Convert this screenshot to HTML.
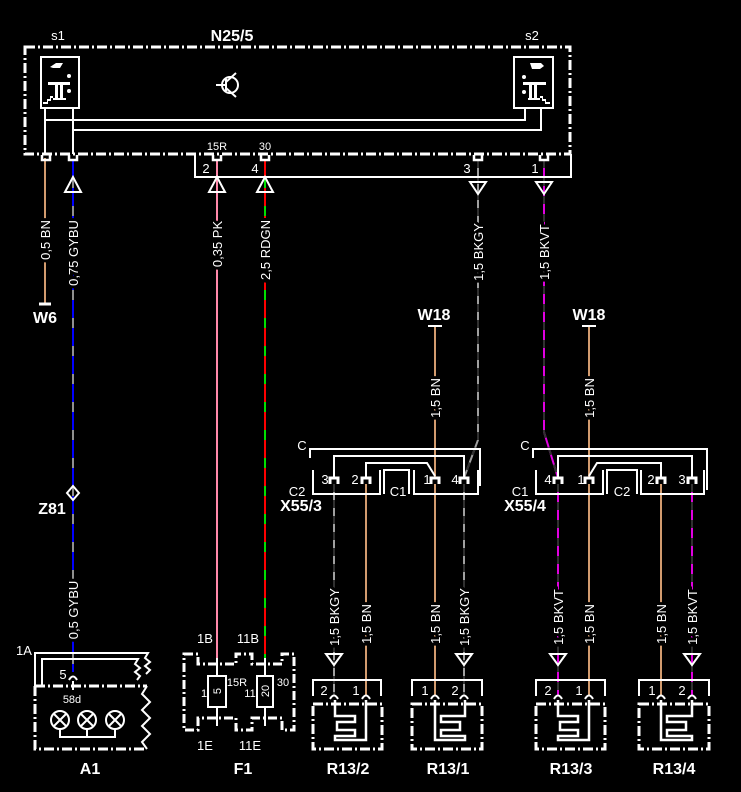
<!DOCTYPE html>
<html><head><meta charset="utf-8"><style>
html,body{margin:0;padding:0;background:#000;}
svg{display:block;}
text{font-family:"Liberation Sans",sans-serif;fill:#fff;}
.l{font-size:13px;}
.s{font-size:11px;}
.b{font-size:16px;font-weight:bold;}
.w{font-size:13px;stroke:#000;stroke-width:6px;paint-order:stroke;}
</style></head><body>
<svg width="741" height="792" viewBox="0 0 741 792" xmlns="http://www.w3.org/2000/svg">
<rect width="741" height="792" fill="#000"/>

<g fill="none" stroke-width="2">
<line x1="45" y1="158" x2="45" y2="304" stroke="#d29b6e"/>
<line x1="73" y1="160" x2="73" y2="672" stroke="#909090"/>
<line x1="73" y1="160" x2="73" y2="672" stroke="#0000ff" stroke-dasharray="18,10"/>
<line x1="217" y1="160" x2="217" y2="660" stroke="#ff88aa"/>
<line x1="265" y1="160" x2="265" y2="660" stroke="#00e000"/>
<line x1="265" y1="160" x2="265" y2="660" stroke="#ff0000" stroke-dasharray="18,10"/>
<polyline points="478,160 478,440 464,478" stroke="#a0a0a0"/>
<polyline points="478,160 478,440 464,478" stroke="#303030" stroke-dasharray="8,8"/>
<polyline points="544,160 544,432 558,478" stroke="#e000e0"/>
<polyline points="544,160 544,432 558,478" stroke="#303030" stroke-dasharray="8,10"/>
<line x1="435" y1="326" x2="435" y2="478" stroke="#d29b6e"/>
<line x1="589" y1="326" x2="589" y2="478" stroke="#d29b6e"/>
<line x1="334" y1="484" x2="334" y2="696" stroke="#a0a0a0"/>
<line x1="334" y1="484" x2="334" y2="696" stroke="#303030" stroke-dasharray="8,8"/>
<line x1="366" y1="484" x2="366" y2="696" stroke="#d29b6e"/>
<line x1="435" y1="484" x2="435" y2="696" stroke="#d29b6e"/>
<line x1="464" y1="484" x2="464" y2="696" stroke="#a0a0a0"/>
<line x1="464" y1="484" x2="464" y2="696" stroke="#303030" stroke-dasharray="8,8"/>
<line x1="558" y1="484" x2="558" y2="696" stroke="#e000e0"/>
<line x1="558" y1="484" x2="558" y2="696" stroke="#303030" stroke-dasharray="8,10"/>
<line x1="589" y1="484" x2="589" y2="696" stroke="#d29b6e"/>
<line x1="661" y1="484" x2="661" y2="696" stroke="#d29b6e"/>
<line x1="692" y1="484" x2="692" y2="696" stroke="#e000e0"/>
<line x1="692" y1="484" x2="692" y2="696" stroke="#303030" stroke-dasharray="8,10"/>
</g>

<g fill="none" stroke="#fff" stroke-width="2">
<rect x="25" y="47" width="545" height="107" stroke-width="3" stroke-dasharray="10,3,2,3"/>
<rect x="41" y="57" width="38" height="51"/>
<rect x="514" y="57" width="39" height="51"/>
<polyline points="45,108 45,154"/>
<polyline points="73,108 73,154"/>
<polyline points="45,120 525,120 525,108"/>
<polyline points="73,130 541,130 541,108"/>
<polyline points="195,154 195,177 571,177 571,154"/>
<circle cx="230" cy="85" r="8"/>
<line x1="216" y1="85" x2="226" y2="85"/><line x1="226" y1="79" x2="226" y2="91"/>
<line x1="226" y1="82" x2="236" y2="73"/><line x1="226" y1="88" x2="236" y2="97"/>
<path d="M42 155 v5 h8 v-5 M69 155 v5 h8 v-5 M213 155 v5 h8 v-5 M261 155 v5 h8 v-5 M474 155 v5 h8 v-5 M540 155 v5 h8 v-5" stroke-width="2.5"/>
<polygon points="65,192 81,192 73,177"/>
<polygon points="209,192 225,192 217,177"/>
<polygon points="257,192 273,192 265,177"/>
<polygon points="470,182 486,182 478,194"/>
<polygon points="536,182 552,182 544,194"/>
<polygon points="326,654 342,654 334,665"/>
<polygon points="456,654 472,654 464,665"/>
<polygon points="550,654 566,654 558,665"/>
<polygon points="684,654 700,654 692,665"/>
<line x1="39" y1="304" x2="51" y2="304" stroke-width="3"/>
<line x1="428" y1="326" x2="442" y2="326" stroke-width="2"/>
<line x1="582" y1="326" x2="596" y2="326" stroke-width="2"/>
<polygon points="73,486 79,493 73,500 67,493"/>

<polyline points="310,458 310,449 480,449 480,486"/>
<polyline points="334,478 334,456 464,456 464,478"/>
<polyline points="366,478 366,463 427,463 435,476"/>
<polyline points="313,470 313,494 380,494 380,470"/>
<polyline points="384,494 384,470 409,470 409,494"/>
<polyline points="414,470 414,494 478,494 478,470"/>
<path d="M330 484 v-6 h8 v6 M362 484 v-6 h8 v6 M431 484 v-6 h8 v6 M460 484 v-6 h8 v6" stroke-width="3"/>
<polyline points="533,458 533,449 707,449 707,490"/>
<polyline points="558,478 558,456 692,456 692,478"/>
<polyline points="589,476 597,463 661,463 661,478"/>
<polyline points="536,470 536,494 603,494 603,470"/>
<polyline points="607,494 607,470 637,470 637,494"/>
<polyline points="641,470 641,494 704,494 704,470"/>
<path d="M554 484 v-6 h8 v6 M585 484 v-6 h8 v6 M657 484 v-6 h8 v6 M688 484 v-6 h8 v6" stroke-width="3"/>

<polyline points="313,696 313,680 381,680 381,696"/>
<rect x="313" y="704" width="69" height="45" stroke-width="3" stroke-dasharray="10,3,2,3"/>
<path d="M330 699 q4 -7 8 0 M362 699 q4 -7 8 0"/>
<path d="M335 700 V716 H355 V722 H337 V730 H355 V736 H335 V740 H366 V700" stroke-width="2.5"/>
<polyline points="412,696 412,680 482,680 482,696"/>
<rect x="412" y="704" width="70" height="45" stroke-width="3" stroke-dasharray="10,3,2,3"/>
<path d="M431 699 q4 -7 8 0 M460 699 q4 -7 8 0"/>
<path d="M435 700 V740 H465 V736 H441 V730 H460 V722 H441 V716 H465 V700" stroke-width="2.5"/>
<polyline points="536,696 536,680 605,680 605,696"/>
<rect x="536" y="704" width="69" height="45" stroke-width="3" stroke-dasharray="10,3,2,3"/>
<path d="M554 699 q4 -7 8 0 M585 699 q4 -7 8 0"/>
<path d="M558 700 V716 H578 V722 H560 V730 H578 V736 H558 V740 H589 V700" stroke-width="2.5"/>
<polyline points="639,696 639,680 709,680 709,696"/>
<rect x="639" y="704" width="70" height="45" stroke-width="3" stroke-dasharray="10,3,2,3"/>
<path d="M657 699 q4 -7 8 0 M688 699 q4 -7 8 0"/>
<path d="M661 700 V740 H692 V736 H667 V730 H686 V722 H667 V716 H692 V700" stroke-width="2.5"/>

<polyline points="35,686 35,653 148,653 145,658 150,662 145,666 150,670 146,674"/>
<polyline points="42,686 42,659 138,659 135,664 140,668 135,672 140,676 137,680"/>
<path d="M35 686 H147 M35 686 V749 H147" stroke-width="3" stroke-dasharray="10,3,2,3"/>
<polyline points="147,686 142,694 150,702 142,710 150,718 142,726 150,734 142,742 147,749"/>
<path d="M69 680 q4 -7 8 0"/>
<line x1="73" y1="681" x2="73" y2="690"/>
<circle cx="60" cy="720" r="9"/><circle cx="87" cy="720" r="9"/><circle cx="115" cy="720" r="9"/>
<path d="M54 714 l12 12 M66 714 l-12 12 M81 714 l12 12 M93 714 l-12 12 M109 714 l12 12 M121 714 l-12 12"/>
<polyline points="60,729 60,737 115,737 115,729"/>
<line x1="87" y1="729" x2="87" y2="737"/>

<path d="M184 654 H198 V664 H236 V654 H252 V664 H282 V654 H294 V730 H282 V718 H252 V730 H236 V718 H198 V730 H184 Z" stroke-width="3" stroke-dasharray="9,3,2,3"/>
<line x1="217" y1="658" x2="217" y2="726"/>
<line x1="265" y1="658" x2="265" y2="726"/>
<rect x="208" y="676" width="18" height="31" fill="#000"/>
<rect x="257" y="676" width="16" height="31" fill="#000"/>
</g>

<!-- switch icons -->
<g fill="#fff">
<polygon points="50,67 56,63 63,63 60,68 53,68"/>
<rect x="48" y="82" width="22" height="3"/>
<rect x="55" y="85" width="3" height="14"/><rect x="60" y="85" width="3" height="14"/>
<rect x="53" y="98" width="13" height="2"/>
<circle cx="69" cy="76" r="2"/><circle cx="69" cy="91" r="2"/>
<path d="M43 102 h4 v-3 h3 v-3 h3 v2 h-2 v3 h-3 v3 h-5 z"/>
<polygon points="530,63 541,63 544,66 540,69 532,69"/>
<rect x="523" y="82" width="23" height="3"/>
<rect x="529" y="85" width="3" height="14"/><rect x="534" y="85" width="3" height="14"/>
<rect x="528" y="98" width="12" height="2"/>
<circle cx="524" cy="77" r="2"/><circle cx="524" cy="92" r="2"/>
<path d="M540 96 h3 v3 h3 v3 h4 v2 h-5 v-3 h-3 v-3 h-2 z"/>
</g>

<text class="l" x="58" y="40" text-anchor="middle">s1</text>
<text class="b" x="232" y="41" text-anchor="middle">N25/5</text>
<text class="l" x="532" y="40" text-anchor="middle">s2</text>
<text class="s" x="217" y="150" text-anchor="middle">15R</text>
<text class="s" x="265" y="150" text-anchor="middle">30</text>
<text class="l" x="206" y="173" text-anchor="middle">2</text>
<text class="l" x="255" y="173" text-anchor="middle">4</text>
<text class="l" x="467" y="173" text-anchor="middle">3</text>
<text class="l" x="535" y="173" text-anchor="middle">1</text>

<text class="w" transform="translate(45,240) rotate(-90)" text-anchor="middle" dy="5">0,5 BN</text>
<text class="w" transform="translate(73,253) rotate(-90)" text-anchor="middle" dy="5">0,75 GYBU</text>
<text class="w" transform="translate(217,244) rotate(-90)" text-anchor="middle" dy="5">0,35 PK</text>
<text class="w" transform="translate(265,250) rotate(-90)" text-anchor="middle" dy="5">2,5 RDGN</text>
<text class="w" transform="translate(478,252) rotate(-90)" text-anchor="middle" dy="5">1,5 BKGY</text>
<text class="w" transform="translate(544,252) rotate(-90)" text-anchor="middle" dy="5">1,5 BKVT</text>
<text class="w" transform="translate(435,398) rotate(-90)" text-anchor="middle" dy="5">1,5 BN</text>
<text class="w" transform="translate(589,398) rotate(-90)" text-anchor="middle" dy="5">1,5 BN</text>
<text class="w" transform="translate(73,610) rotate(-90)" text-anchor="middle" dy="5">0,5 GYBU</text>
<text class="w" transform="translate(334,617) rotate(-90)" text-anchor="middle" dy="5">1,5 BKGY</text>
<text class="w" transform="translate(366,624) rotate(-90)" text-anchor="middle" dy="5">1,5 BN</text>
<text class="w" transform="translate(435,624) rotate(-90)" text-anchor="middle" dy="5">1,5 BN</text>
<text class="w" transform="translate(464,617) rotate(-90)" text-anchor="middle" dy="5">1,5 BKGY</text>
<text class="w" transform="translate(558,617) rotate(-90)" text-anchor="middle" dy="5">1,5 BKVT</text>
<text class="w" transform="translate(589,624) rotate(-90)" text-anchor="middle" dy="5">1,5 BN</text>
<text class="w" transform="translate(661,624) rotate(-90)" text-anchor="middle" dy="5">1,5 BN</text>
<text class="w" transform="translate(692,617) rotate(-90)" text-anchor="middle" dy="5">1,5 BKVT</text>

<text class="b" x="45" y="323" text-anchor="middle">W6</text>
<text class="b" x="434" y="320" text-anchor="middle">W18</text>
<text class="b" x="589" y="320" text-anchor="middle">W18</text>
<text class="b" x="52" y="514" text-anchor="middle">Z81</text>

<text class="l" x="302" y="450" text-anchor="middle">C</text>
<text class="l" x="297" y="496" text-anchor="middle">C2</text>
<text class="l" x="325" y="484" text-anchor="middle">3</text>
<text class="l" x="355" y="484" text-anchor="middle">2</text>
<text class="l" x="398" y="496" text-anchor="middle">C1</text>
<text class="l" x="427" y="484" text-anchor="middle">1</text>
<text class="l" x="455" y="484" text-anchor="middle">4</text>
<text class="b" x="301" y="511" text-anchor="middle">X55/3</text>

<text class="l" x="525" y="450" text-anchor="middle">C</text>
<text class="l" x="520" y="496" text-anchor="middle">C1</text>
<text class="l" x="548" y="484" text-anchor="middle">4</text>
<text class="l" x="581" y="484" text-anchor="middle">1</text>
<text class="l" x="622" y="496" text-anchor="middle">C2</text>
<text class="l" x="651" y="484" text-anchor="middle">2</text>
<text class="l" x="682" y="484" text-anchor="middle">3</text>
<text class="b" x="525" y="511" text-anchor="middle">X55/4</text>

<text class="l" x="324" y="695" text-anchor="middle">2</text>
<text class="l" x="356" y="695" text-anchor="middle">1</text>
<text class="l" x="425" y="695" text-anchor="middle">1</text>
<text class="l" x="455" y="695" text-anchor="middle">2</text>
<text class="l" x="548" y="695" text-anchor="middle">2</text>
<text class="l" x="579" y="695" text-anchor="middle">1</text>
<text class="l" x="652" y="695" text-anchor="middle">1</text>
<text class="l" x="682" y="695" text-anchor="middle">2</text>
<text class="b" x="348" y="774" text-anchor="middle">R13/2</text>
<text class="b" x="448" y="774" text-anchor="middle">R13/1</text>
<text class="b" x="571" y="774" text-anchor="middle">R13/3</text>
<text class="b" x="674" y="774" text-anchor="middle">R13/4</text>

<text class="l" x="24" y="655" text-anchor="middle">1A</text>
<text class="l" x="63" y="679" text-anchor="middle">5</text>
<text class="s" x="72" y="703" text-anchor="middle">58d</text>
<text class="b" x="90" y="774" text-anchor="middle">A1</text>

<text class="l" x="205" y="643" text-anchor="middle">1B</text>
<text class="l" x="248" y="643" text-anchor="middle">11B</text>
<text class="l" x="205" y="750" text-anchor="middle">1E</text>
<text class="l" x="250" y="750" text-anchor="middle">11E</text>
<text class="s" x="237" y="686" text-anchor="middle">15R</text>
<text class="s" x="283" y="686" text-anchor="middle">30</text>
<text class="s" x="204" y="697" text-anchor="middle">1</text>
<text class="s" x="250" y="697" text-anchor="middle">11</text>
<text class="s" transform="translate(217,691) rotate(-90)" text-anchor="middle" dy="4">5</text>
<text class="s" transform="translate(265,691) rotate(-90)" text-anchor="middle" dy="4">20</text>
<text class="b" x="243" y="774" text-anchor="middle">F1</text>
</svg>
</body></html>
